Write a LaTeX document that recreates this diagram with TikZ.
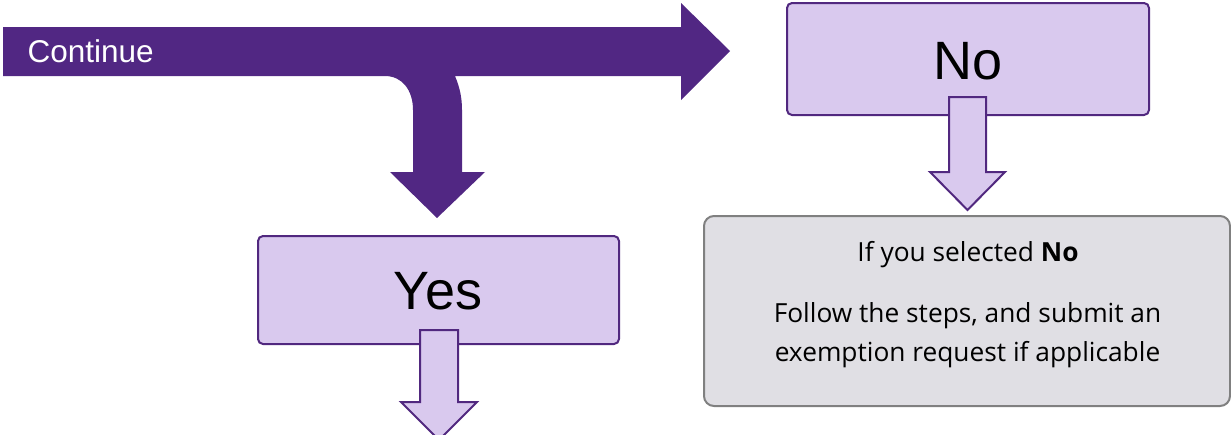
\documentclass[tikz,border=0pt]{standalone}
\usepackage{fontspec}
\setmainfont{Liberation Sans}
\newfontfamily\boxfont{Open Sans}
\begin{document}
\begin{tikzpicture}[x=1pt,y=-1pt]
\definecolor{deeppurple}{HTML}{512783}
\definecolor{lavender}{HTML}{D9C9EE}
\definecolor{edgepurple}{HTML}{51287F}
\definecolor{panelgray}{HTML}{E0DFE4}
\definecolor{paneledge}{HTML}{808080}
\tikzset{
  choicebox/.style={draw=edgepurple, fill=lavender, line width=2pt, rounded corners=5pt, inner sep=0pt},
  panelbox/.style={draw=paneledge, fill=panelgray, line width=2pt, rounded corners=10pt, inner sep=0pt},
  blockarrow/.style={draw=edgepurple, fill=lavender, line width=2pt, line join=miter},
  bigarrow/.style={fill=deeppurple},
  choicetext/.style={font=\fontsize{54}{60}\selectfont, anchor=base},
  paneltext/.style={font=\boxfont\fontsize{26.3}{30}\selectfont, anchor=base},
}
\useasboundingbox (0,0) rectangle (1231,434);
\clip (0,0) rectangle (1231,434);
% big purple arrow
\fill[bigarrow] (3,27) -- (681,27) -- (681,3) -- (730,51) -- (681,100) -- (681,76)
  -- (455,76) .. controls (460,88) and (462,98) .. (462,110) -- (462,172) -- (485,172)
  -- (437,218) -- (390,172) -- (413,172) -- (413,110)
  .. controls (413,90) and (402,76) .. (385,76) -- (3,76) -- cycle;
\node[anchor=base west, text=white, font=\fontsize{31.5}{35}\selectfont] (cont) at (24,62) {Continue};
% boxes
\node[choicebox, minimum width=361pt, minimum height=108pt] (yes) at (438.5,290) {};
\node[choicetext] (yestext) at (438,309) {Yes};
\node[choicebox, minimum width=362pt, minimum height=112pt] (no) at (968,59) {};
\node[choicetext] (notext) at (968,79) {No};
\node[panelbox, minimum width=526pt, minimum height=190pt] (panel) at (967,311) {};
\node[paneltext] (l1) at (968,261) {If you selected \textbf{No}};
\node[paneltext] (l2) at (967.5,322) {Follow the steps, and submit an};
\node[paneltext] (l3) at (967.5,361) {exemption request if applicable};
% small block arrows
\draw[blockarrow] (949,97) -- (986,97) -- (986,172) -- (1005,172) -- (967.5,210)
  -- (930,172) -- (949,172) -- cycle;
\draw[blockarrow] (420,330) -- (458,330) -- (458,402) -- (477,402) -- (439,440)
  -- (401,402) -- (420,402) -- cycle;
\end{tikzpicture}
\end{document}
